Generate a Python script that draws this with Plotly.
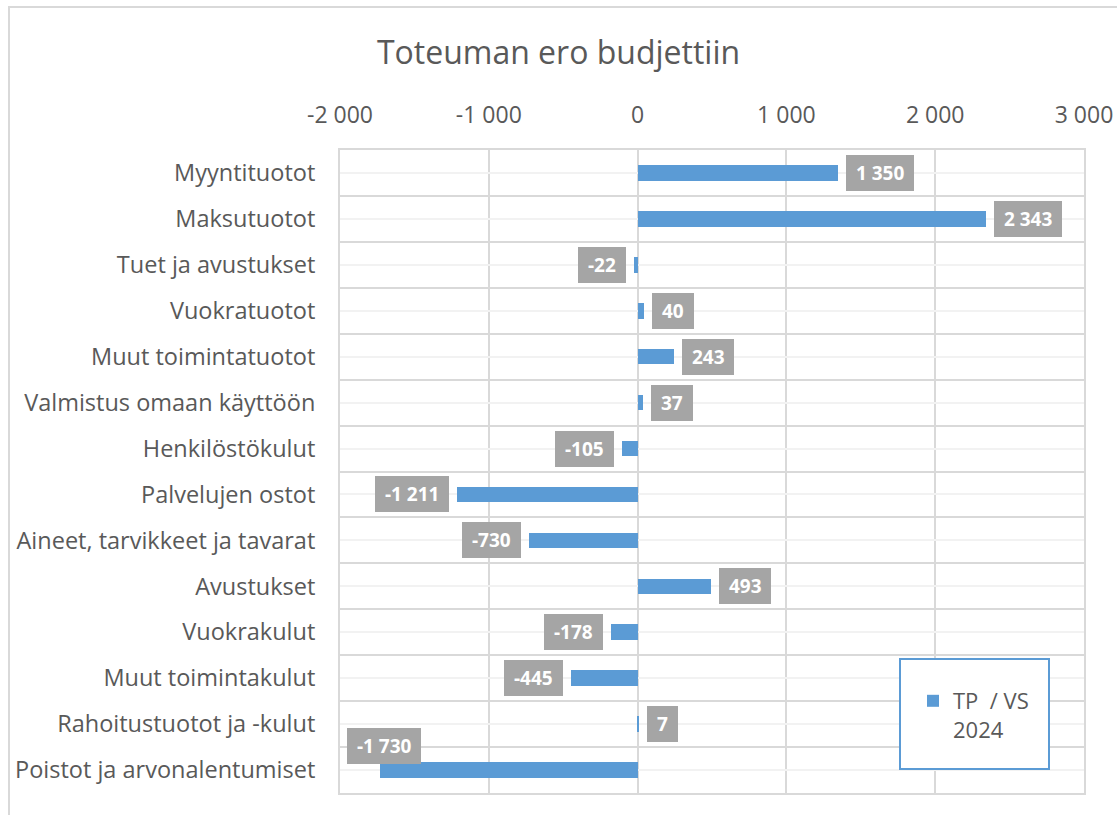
import plotly.graph_objects as go

categories = [
    "Myyntituotot", "Maksutuotot", "Tuet ja avustukset", "Vuokratuotot",
    "Muut toimintatuotot", "Valmistus omaan käyttöön", "Henkilöstökulut",
    "Palvelujen ostot", "Aineet, tarvikkeet ja tavarat", "Avustukset",
    "Vuokrakulut", "Muut toimintakulut", "Rahoitustuotot ja -kulut",
    "Poistot ja arvonalentumiset",
]
values = [1350, 2343, -22, 40, 243, 37, -105, -1211, -730, 493, -178, -445, 7, -1730]
series_name = "TP\u00a0\u00a0/ VS<br>2024"
x_tickvals = [-2000, -1000, 0, 1000, 2000, 3000]
x_ticktext = ["-2 000", "-1 000", "0", "1 000", "2 000", "3 000"]
title_text = "Toteuman ero budjettiin"

W, H = 1117, 815
ML, MR, MT, MB = 340, 33, 150, 22
PW, PH = W - ML - MR, H - MT - MB
XMIN, XMAX = -2000, 3000
FONT = "Open Sans, Segoe UI, sans-serif"
TXT = "#595959"
NB = "\u00a0"


def fmt(v):
    s = f"{abs(v):,}".replace(",", " ")
    return ("-" if v < 0 else "") + s


def px_x(xp):
    return (xp - ML) / PW


def px_y(yp):
    return (H - MB - yp) / PH


ypos = list(range(len(categories)))

fig = go.Figure()
fig.add_trace(go.Bar(
    x=values, y=ypos, orientation="h", width=0.34,
    marker=dict(color="#5b9bd5", line=dict(width=0)),
    name=series_name, showlegend=True,
))

annotations = []
for i, v in enumerate(values):
    txt = fmt(v)
    est_w = 12 * len(txt) + 16
    if v >= 0:
        ann = dict(x=v, y=i, xanchor="left", xshift=8, yshift=0)
    else:
        px = (v - XMIN) / (XMAX - XMIN) * PW
        if px - 8 - est_w < 0:
            ann = dict(x=XMIN, y=i, xanchor="left", xshift=7, yshift=24)
        else:
            ann = dict(x=v, y=i, xanchor="right", xshift=-8, yshift=0)
    ann.update(dict(
        text=f"<b>{NB}{txt}{NB}</b>", showarrow=False, xref="x", yref="y",
        yanchor="middle", bgcolor="#a5a5a5", bordercolor="#a5a5a5",
        borderwidth=1, borderpad=4,
        font=dict(family=FONT, size=19, color="white"),
    ))
    annotations.append(ann)

fig.update_layout(
    width=W, height=H, autosize=False,
    margin=dict(l=ML, r=MR, t=MT, b=MB, autoexpand=False),
    paper_bgcolor="white", plot_bgcolor="white",
    title=dict(text=title_text, x=0.5, xref="container", xanchor="center",
               y=1 - 53 / H, yref="container", yanchor="middle",
               font=dict(family=FONT, size=32, color=TXT)),
    font=dict(family=FONT, size=23, color=TXT),
    annotations=annotations,
    legend=dict(
        x=px_x(913), y=px_y(680),
        xanchor="left", yanchor="top",
        bgcolor="rgba(0,0,0,0)", borderwidth=0,
        font=dict(family=FONT, size=22, color=TXT),
        itemsizing="constant", valign="top", itemwidth=30,
    ),
    bargap=0,
    shapes=[
        dict(type="rect", xref="paper", yref="paper",
             x0=px_x(900), x1=px_x(1049), y0=px_y(769), y1=px_y(659),
             line=dict(color="#5b9bd5", width=2), fillcolor="white", layer="above"),
        dict(type="rect", xref="paper", yref="paper",
             x0=px_x(9), x1=px_x(1125), y0=px_y(830), y1=px_y(7),
             line=dict(color="#d9d9d9", width=2), layer="below"),
    ],
)

fig.update_xaxes(
    side="top", range=[XMIN, XMAX], tickvals=x_tickvals, ticktext=x_ticktext,
    automargin=False,
    showgrid=True, gridcolor="#d9d9d9", gridwidth=2,
    zeroline=False, showline=True, mirror=True, linecolor="#d9d9d9", linewidth=2,
    ticks="", ticklabelstandoff=16,
    tickfont=dict(family=FONT, size=23, color=TXT),
)
fig.update_yaxes(
    range=[len(categories) - 0.5, -0.5], tickvals=ypos, ticktext=categories,
    automargin=False,
    showgrid=True, gridcolor="#f2f2f2", gridwidth=2,
    minor=dict(tickvals=[k - 0.5 for k in range(len(categories) + 1)],
               showgrid=True, gridcolor="#d9d9d9", gridwidth=2),
    zeroline=False, showline=True, mirror=True, linecolor="#d9d9d9", linewidth=2,
    ticks="", ticklabelstandoff=18,
    tickfont=dict(family=FONT, size=23.5, color=TXT),
)

fig.write_html("out.html", config={"displayModeBar": False},
               post_script="document.body.style.margin='0';")
